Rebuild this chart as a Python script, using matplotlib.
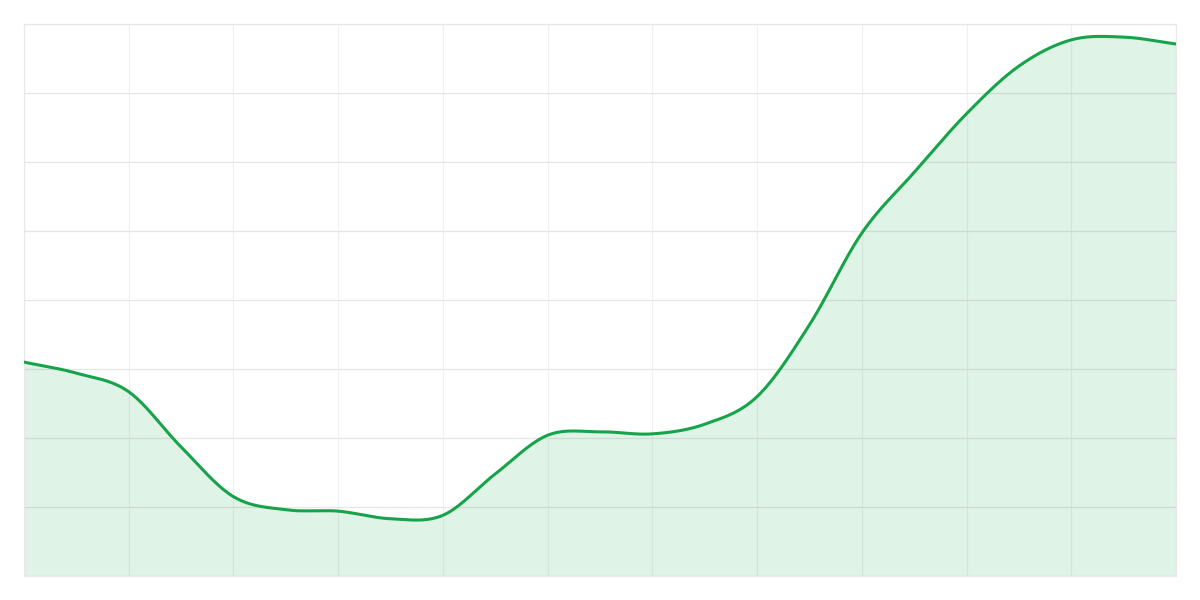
import numpy as np
import matplotlib
matplotlib.use("Agg")
import matplotlib.pyplot as plt

# values, one per half grid column
idx = list(range(23))
values = [31.0, 29.4, 26.7, 18.7, 11.5, 9.6, 9.4, 8.3, 8.8, 14.8, 20.4, 20.9,
          20.6, 22.0, 26.0, 36.4, 49.7, 58.5, 67.0, 73.9, 77.7, 78.1, 77.1]
y_ticks = [0, 10, 20, 30, 40, 50, 60, 70, 80]
x_ticks = list(range(0, 23, 2))

LINE = "#16a34a"


def smooth(xs, ys, n=20):
    # catmull-rom style spline through the points
    xs = np.asarray(xs, float)
    ys = np.asarray(ys, float)
    m = np.zeros_like(ys)
    m[1:-1] = (ys[2:] - ys[:-2]) / (xs[2:] - xs[:-2])
    m[0] = (ys[1] - ys[0]) / (xs[1] - xs[0])
    m[-1] = (ys[-1] - ys[-2]) / (xs[-1] - xs[-2])
    out_x, out_y = [], []
    for i in range(len(xs) - 1):
        h = xs[i + 1] - xs[i]
        t = np.linspace(0, 1, n, endpoint=False)
        h00 = 2 * t**3 - 3 * t**2 + 1
        h10 = t**3 - 2 * t**2 + t
        h01 = -2 * t**3 + 3 * t**2
        h11 = t**3 - t**2
        out_x.extend(xs[i] + t * h)
        out_y.extend(h00 * ys[i] + h10 * h * m[i] + h01 * ys[i + 1] + h11 * h * m[i + 1])
    out_x.append(xs[-1])
    out_y.append(ys[-1])
    return np.array(out_x), np.array(out_y)


fig = plt.figure(figsize=(12, 6), dpi=100)
ax = fig.add_axes([0.02, 0.04, 0.96, 0.92])

sx, sy = smooth(idx, values)
ax.fill_between(sx, sy, 0, color=LINE, alpha=0.13, linewidth=0, zorder=1)
ax.plot(sx, sy, color=LINE, linewidth=2.2, zorder=3, solid_capstyle="round")

ax.set_xlim(0, 22)
ax.set_ylim(0, 80)
ax.set_xticks(x_ticks)
ax.set_yticks(y_ticks)
ax.tick_params(length=0, labelbottom=False, labelleft=False)
ax.grid(axis="y", color="#e6e6e6", linewidth=0.9)
ax.grid(axis="x", color="#f0f0f0", linewidth=0.9)
ax.set_axisbelow(True)
for s in ax.spines.values():
    s.set_color("#e8e8e8")
    s.set_linewidth(0.9)

fig.savefig("out.png", dpi=100)
